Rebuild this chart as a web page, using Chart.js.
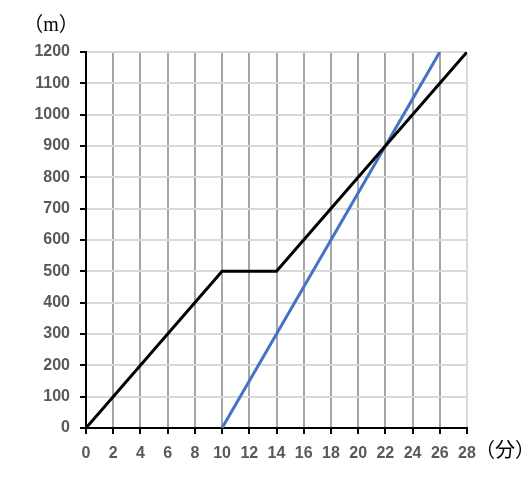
<!DOCTYPE html>
<html>
<head>
<meta charset="utf-8">
<script src="https://cdn.jsdelivr.net/npm/chart.js@4/dist/chart.umd.min.js"></script>
<style>
  html, body { margin: 0; padding: 0; background: #fff; }
  #wrap { width: 532px; height: 481px; }
</style>
</head>
<body>
<div id="wrap"><canvas id="chart" width="532" height="481"></canvas></div>
<script>
// data
const walkX = [0, 10, 14, 28];
const walkY = [0, 500, 500, 1200];
const runX = [10, 26];
const runY = [0, 1200];
const yUnit = '（m）';
const xUnit = '（分）';

const pts = (xs, ys) => xs.map((x, i) => ({ x: x, y: ys[i] }));

const tickFont = { family: '"Liberation Sans", Arial, sans-serif', size: 16, weight: 'bold' };

// unit labels next to the axes
const unitLabels = {
    id: 'unitLabels',
    afterDraw(chart) {
        const ctx = chart.ctx;
        const a = chart.chartArea;
        ctx.save();
        ctx.fillStyle = '#000';
        ctx.font = '20px "Liberation Serif", "Noto Sans CJK JP", serif';
        ctx.textBaseline = 'middle';
        ctx.textAlign = 'center';
        ctx.fillText(yUnit, a.left - 35, a.top - 26);
        ctx.textAlign = 'left';
        ctx.fillText(xUnit, a.right + 8, a.bottom + 24);
        ctx.restore();
    }
};

const ctx = document.getElementById('chart');
const chart = new Chart(ctx, {
    type: 'line',
    data: {
        datasets: [{
            data: pts(walkX, walkY),
            borderColor: '#000000',
            borderWidth: 3,
            pointRadius: 0,
            tension: 0
        }, {
            data: pts(runX, runY),
            borderColor: '#4472c4',
            borderWidth: 3,
            pointRadius: 0,
            tension: 0
        }]
    },
    options: {
        responsive: false,
        animation: false,
        layout: { padding: { left: 0, top: 52, right: 65, bottom: 0 } },
        plugins: {
            legend: { display: false },
            tooltip: { enabled: false }
        },
        scales: {
            x: {
                type: 'linear',
                min: 0,
                max: 28,
                afterFit: s => { s.height = 53; },
                ticks: { stepSize: 2, color: '#595959', font: tickFont, padding: 10, maxRotation: 0 },
                grid: {
                    color: c => c.tick && c.tick.value === 28 ? '#d9d9d9' : '#a6a6a6',
                    lineWidth: 2,
                    tickColor: '#000',
                    tickLength: 6
                },
                border: { color: '#000', width: 2 }
            },
            y: {
                min: 0,
                max: 1200,
                afterFit: s => { s.width = 86; },
                ticks: {
                    stepSize: 100,
                    color: '#595959',
                    font: tickFont,
                    padding: 10,
                    callback: v => String(v)
                },
                grid: {
                    color: '#d9d9d9',
                    lineWidth: 2,
                    tickColor: '#000',
                    tickLength: 6
                },
                border: { color: '#000', width: 2 }
            }
        }
    },
    plugins: [unitLabels]
});
</script>
</body>
</html>
